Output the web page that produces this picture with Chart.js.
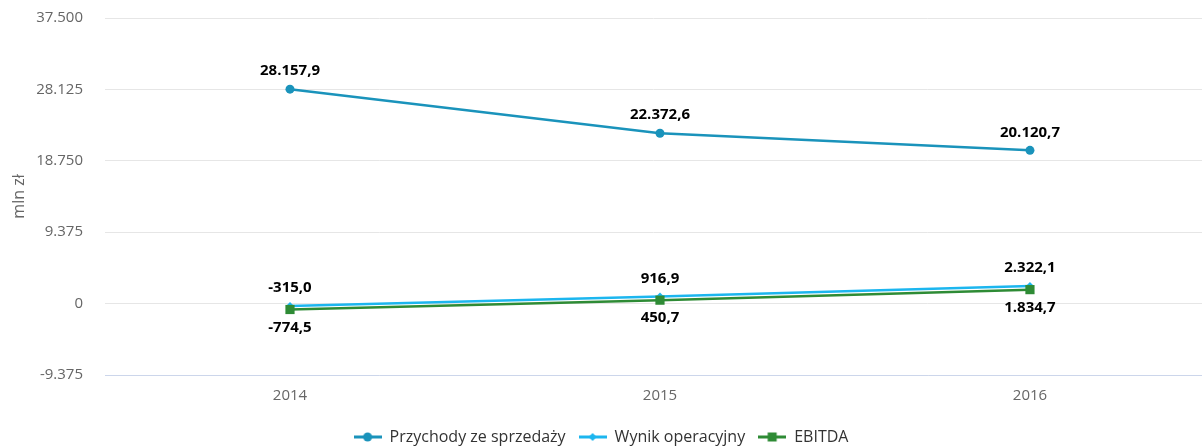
<!DOCTYPE html>
<html>
<head>
<meta charset="utf-8">
<script src="https://cdn.jsdelivr.net/npm/chart.js@4.4.1/dist/chart.umd.min.js"></script>
<style>
  html, body { margin: 0; padding: 0; background: #fff; }
  #wrap { width: 1202px; height: 447px; }
</style>
</head>
<body>
<div id="wrap"><canvas id="financeChart"></canvas></div>
<script>
// Chart data
const years = [2014, 2015, 2016];
const przychody = [28157.9, 22372.6, 20120.7];
const wynikOperacyjny = [-315.0, 916.9, 2322.1];
const ebitda = [-774.5, 450.7, 1834.7];
const yTicks = [-9375, 0, 9375, 18750, 28125, 37500];

const colPrzychody = '#1a93bb';
const colWynik = '#1cb6ef';
const colEbitda = '#2e8b35';

const fontFamily = '"Open Sans", sans-serif';

// legend symbols: line with marker on it
function legendIcon(color, shape) {
    const c = document.createElement('canvas');
    c.width = 28;
    c.height = 12;
    const g = c.getContext('2d');
    g.strokeStyle = color;
    g.fillStyle = color;
    g.lineWidth = 3;
    g.beginPath();
    g.moveTo(0, 6);
    g.lineTo(28, 6);
    g.stroke();
    g.beginPath();
    if (shape === 'circle') {
        g.arc(14, 6, 4.5, 0, Math.PI * 2);
    } else if (shape === 'diamond') {
        g.moveTo(14, 2); g.lineTo(18, 6); g.lineTo(14, 10); g.lineTo(10, 6);
    } else {
        g.rect(9.5, 1.5, 9, 9);
    }
    g.fill();
    return c;
}
const icons = [
    legendIcon(colPrzychody, 'circle'),
    legendIcon(colWynik, 'diamond'),
    legendIcon(colEbitda, 'square'),
];

function fmt(v, dec) {
    return v.toLocaleString('de-DE', { minimumFractionDigits: dec, maximumFractionDigits: dec });
}

// value labels above / below points
const valueLabels = {
    id: 'valueLabels',
    afterDatasetsDraw(chart) {
        const ctx = chart.ctx;
        ctx.save();
        ctx.font = 'bold 15px ' + fontFamily;
        ctx.fillStyle = '#000';
        ctx.textAlign = 'center';
        ctx.textBaseline = 'middle';
        chart.data.datasets.forEach((ds, i) => {
            const meta = chart.getDatasetMeta(i);
            const below = ds.label === 'EBITDA';
            meta.data.forEach((pt, j) => {
                const off = below ? 18 : -18;
                ctx.fillText(fmt(ds.data[j].y, 1), pt.x, pt.y + off);
            });
        });
        ctx.restore();
    }
};

function toPoints(values) {
    return years.map((yr, i) => ({ x: yr, y: values[i] }));
}

const ctx = document.getElementById('financeChart').getContext('2d');
const financeChart = new Chart(ctx, {
    type: 'line',
    data: {
        datasets: [{
            label: 'Przychody ze sprzedaży',
            data: toPoints(przychody),
            borderColor: colPrzychody,
            backgroundColor: colPrzychody,
            borderWidth: 2.5,
            pointStyle: 'circle',
            pointRadius: 4.5,
            pointBorderWidth: 0,
            order: 2,
        }, {
            label: 'Wynik operacyjny',
            data: toPoints(wynikOperacyjny),
            borderColor: colWynik,
            backgroundColor: colWynik,
            borderWidth: 2.5,
            pointStyle: 'rectRot',
            pointRadius: 4,
            pointBorderWidth: 0,
            order: 1,
        }, {
            label: 'EBITDA',
            data: toPoints(ebitda),
            borderColor: colEbitda,
            backgroundColor: colEbitda,
            borderWidth: 2.5,
            pointStyle: 'rect',
            pointRadius: 6.5,
            pointBorderWidth: 0,
            order: 0,
        }]
    },
    options: {
        responsive: true,
        maintainAspectRatio: false,
        animation: false,
        layout: {
            autoPadding: false,
            padding: { top: 18, right: 0, bottom: -8, left: 0 },
        },
        scales: {
            x: {
                type: 'linear',
                min: 2013.5,
                max: 2016.465,
                afterBuildTicks(scale) {
                    scale.ticks = years.map(v => ({ value: v }));
                },
                afterFit(scale) {
                    scale.height = 41;
                    scale.paddingLeft = 0;
                    scale.paddingRight = 0;
                },
                border: {
                    color: '#ccd6eb',
                    width: 1,
                },
                grid: {
                    display: false,
                    drawTicks: false,
                },
                ticks: {
                    color: '#666',
                    padding: 12,
                    font: { family: fontFamily, size: 15 },
                    callback: v => String(v),
                },
            },
            y: {
                min: yTicks[0],
                max: yTicks[yTicks.length - 1],
                afterBuildTicks(scale) {
                    scale.ticks = yTicks.map(v => ({ value: v }));
                },
                afterFit(scale) {
                    scale.width = 105;
                    scale.paddingTop = 0;
                    scale.paddingBottom = 0;
                },
                border: {
                    display: false,
                },
                grid: {
                    color: '#e6e6e6',
                    drawTicks: false,
                },
                ticks: {
                    color: '#666',
                    padding: 22,
                    font: { family: fontFamily, size: 15 },
                    callback: v => fmt(v, 0),
                },
                title: {
                    display: true,
                    text: 'mln zł',
                    color: '#666',
                    padding: { top: 10, bottom: 0 },
                    font: { family: fontFamily, size: 16 },
                },
            },
        },
        plugins: {
            legend: {
                position: 'bottom',
                labels: {
                    usePointStyle: true,
                    pointStyleWidth: 28,
                    color: '#333',
                    padding: 13,
                    font: { family: fontFamily, size: 16 },
                    generateLabels(chart) {
                        return chart.data.datasets.map((ds, i) => ({
                            text: ds.label,
                            fillStyle: ds.borderColor,
                            strokeStyle: ds.borderColor,
                            lineWidth: 0,
                            pointStyle: icons[i],
                            hidden: !chart.isDatasetVisible(i),
                            datasetIndex: i,
                            fontColor: '#333',
                        }));
                    },
                },
            },
            tooltip: {
                enabled: false,
            },
        },
    },
    plugins: [valueLabels],
});
</script>
</body>
</html>
